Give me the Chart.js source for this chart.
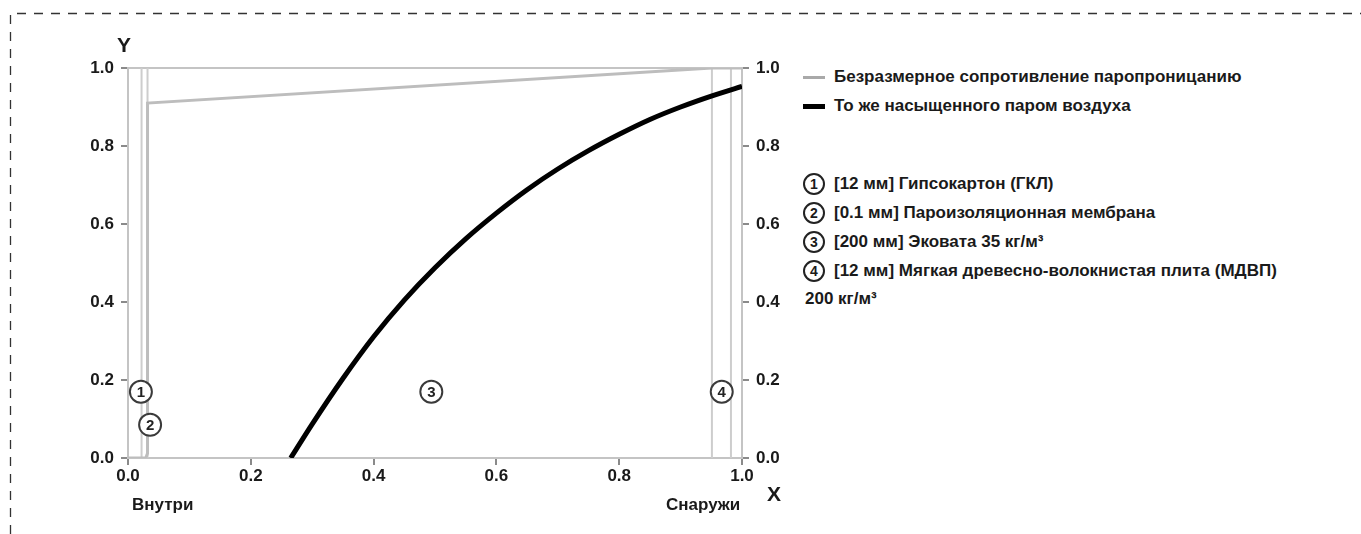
<!DOCTYPE html>
<html>
<head>
<meta charset="utf-8">
<script src="https://cdn.jsdelivr.net/npm/chart.js@4"></script>
<style>
  html, body { margin: 0; padding: 0; background: #fff; }
  body { width: 1361px; height: 534px; position: relative; overflow: hidden;
         font-family: "Liberation Sans", Arial, sans-serif; font-weight: bold; color: #1a1a1a; }
  #frame { position: absolute; left: 0; top: 0; }
  #wrap { position: absolute; left: 0; top: 0; width: 800px; height: 534px; }
  .lbl { position: absolute; white-space: nowrap; font-size: 17px; line-height: 20px; }
  .axis-title { position: absolute; font-size: 21px; line-height: 24px; }
  .leg-row { position: absolute; left: 803px; font-size: 17px; white-space: nowrap; }
  .swatch { position: absolute; left: 0; width: 22px; }
  .leg-text { position: absolute; left: 31px; top: -10px; line-height: 20px; }
  .num { position: absolute; left: 0; top: -11px; width: 18px; height: 18px; border: 2px solid #222;
         border-radius: 50%; text-align: center; line-height: 18px; font-size: 14px; }
</style>
</head>
<body>
<svg id="frame" width="1361" height="534">
  <path d="M10.5 534 L10.5 13.5 L1361 13.5" fill="none" stroke="#333" stroke-width="1.3" stroke-dasharray="9 8"/>
</svg>
<div id="wrap"><canvas id="c" width="800" height="534"></canvas></div>

<div class="axis-title" style="left:117px; top:33px;">Y</div>
<div class="axis-title" style="left:767px; top:482px;">X</div>
<div class="lbl" style="left:132px; top:495px;">Внутри</div>
<div class="lbl" style="left:666px; top:495px;">Снаружи</div>

<div class="leg-row" style="top:77px;"><div class="swatch" style="top:-1px;height:3px;background:#a9a9a9;"></div><div class="leg-text">Безразмерное сопротивление паропроницанию</div></div>
<div class="leg-row" style="top:106px;"><div class="swatch" style="top:-2px;height:5px;background:#000;"></div><div class="leg-text">То же насыщенного паром воздуха</div></div>
<div class="leg-row" style="top:184px;"><div class="num">1</div><div class="leg-text">[12 мм] Гипсокартон (ГКЛ)</div></div>
<div class="leg-row" style="top:213px;"><div class="num">2</div><div class="leg-text">[0.1 мм] Пароизоляционная мембрана</div></div>
<div class="leg-row" style="top:242px;"><div class="num">3</div><div class="leg-text">[200 мм] Эковата 35 кг/м³</div></div>
<div class="leg-row" style="top:271px;"><div class="num">4</div><div class="leg-text">[12 мм] Мягкая древесно-волокнистая плита (МДВП)</div></div>
<div class="lbl" style="left:805px; top:289px;">200 кг/м³</div>

<script>
// Dimensionless vapour-permeation resistance through the wall
const resistX = [0, 0.029, 0.0318, 0.0318, 0.951, 1.0];
const resistY = [0, 0, 0.012, 0.91, 1.0, 1.0];

// Same quantity for vapour-saturated air
const satX = [0.265, 0.30, 0.35, 0.40, 0.45, 0.50, 0.55, 0.60, 0.65, 0.70, 0.75, 0.80, 0.85, 0.90, 0.95, 1.0];
const satY = [0, 0.087, 0.204, 0.311, 0.405, 0.488, 0.562, 0.628, 0.688, 0.741, 0.788, 0.830, 0.868, 0.900, 0.928, 0.953];

// Layer boundaries
const boundaries = [0.0221, 0.0318, 0.951, 0.982];

// Layer number markers
const markerText = ['1', '2', '3', '4'];
const markerX = [0.021, 0.036, 0.494, 0.967];
const markerY = [0.17, 0.085, 0.17, 0.17];

const tickValues = [0, 0.2, 0.4, 0.6, 0.8, 1.0];

const toPts = (xs, ys) => xs.map((x, i) => ({ x, y: ys[i] }));

const datasets = [];
boundaries.forEach(b => datasets.push({
  data: [{ x: b, y: 0 }, { x: b, y: 1 }],
  borderColor: '#cdcdcd', borderWidth: 2, pointRadius: 0, showLine: true, order: 3
}));
datasets.push({
  label: 'Безразмерное сопротивление паропроницанию',
  data: toPts(resistX, resistY),
  borderColor: '#bdbdbd', borderWidth: 3, pointRadius: 0, showLine: true, order: 2
});
datasets.push({
  label: 'То же насыщенного паром воздуха',
  data: toPts(satX, satY),
  borderColor: '#000', borderWidth: 5, pointRadius: 0, showLine: true,
  cubicInterpolationMode: 'monotone', order: 1, borderCapStyle: 'butt'
});

const tickFont = { family: '"Liberation Sans", Arial, sans-serif', size: 17, weight: 'bold' };

const framePlugin = {
  id: 'frame',
  beforeDatasetsDraw(chart) {
    const a = chart.chartArea, ctx = chart.ctx;
    ctx.save();
    ctx.strokeStyle = '#c4c4c4';
    ctx.lineWidth = 2;
    ctx.strokeRect(a.left, a.top, a.right - a.left, a.bottom - a.top);
    ctx.restore();
  }
};

const markerPlugin = {
  id: 'markers',
  afterDatasetsDraw(chart) {
    const ctx = chart.ctx, xs = chart.scales.x, ys = chart.scales.y;
    ctx.save();
    markerText.forEach((t, i) => {
      const px = xs.getPixelForValue(markerX[i]);
      const py = ys.getPixelForValue(markerY[i]);
      ctx.beginPath();
      ctx.arc(px, py, 11, 0, Math.PI * 2);
      ctx.fillStyle = '#fff';
      ctx.fill();
      ctx.lineWidth = 2;
      ctx.strokeStyle = '#3a3a3a';
      ctx.stroke();
      ctx.fillStyle = '#222';
      ctx.font = 'bold 15px "Liberation Sans", Arial, sans-serif';
      ctx.textAlign = 'center';
      ctx.textBaseline = 'middle';
      ctx.fillText(t, px, py + 1);
    });
    ctx.restore();
  }
};

const yTicks = {
  color: '#1a1a1a', font: tickFont, padding: 7,
  callback: v => v.toFixed(1)
};

const gridOpts = { drawOnChartArea: false, drawTicks: true, tickLength: 7, color: '#8a8a8a', lineWidth: 2 };
const borderOpts = { display: true, color: '#c4c4c4', width: 2 };

new Chart(document.getElementById('c'), {
  type: 'scatter',
  data: { datasets },
  plugins: [framePlugin, markerPlugin],
  options: {
    responsive: false,
    animation: false,
    layout: { padding: { top: 68, left: 0, right: 0, bottom: 0 } },
    plugins: { legend: { display: false }, tooltip: { enabled: false } },
    scales: {
      x: {
        type: 'linear', min: 0, max: 1,
        afterBuildTicks: s => { s.ticks = tickValues.map(v => ({ value: v })); },
        afterFit: s => { s.height = 76; },
        grid: gridOpts,
        border: borderOpts,
        ticks: { color: '#1a1a1a', font: tickFont, padding: 1, maxRotation: 0, callback: v => v.toFixed(1) }
      },
      y: {
        type: 'linear', position: 'left', min: 0, max: 1,
        afterBuildTicks: s => { s.ticks = tickValues.map(v => ({ value: v })); },
        afterFit: s => { s.width = 128; },
        grid: gridOpts,
        border: borderOpts,
        ticks: yTicks
      },
      y2: {
        type: 'linear', position: 'right', min: 0, max: 1,
        afterBuildTicks: s => { s.ticks = tickValues.map(v => ({ value: v })); },
        afterFit: s => { s.width = 58; },
        grid: gridOpts,
        border: borderOpts,
        ticks: yTicks
      }
    }
  }
});
</script>
</body>
</html>
